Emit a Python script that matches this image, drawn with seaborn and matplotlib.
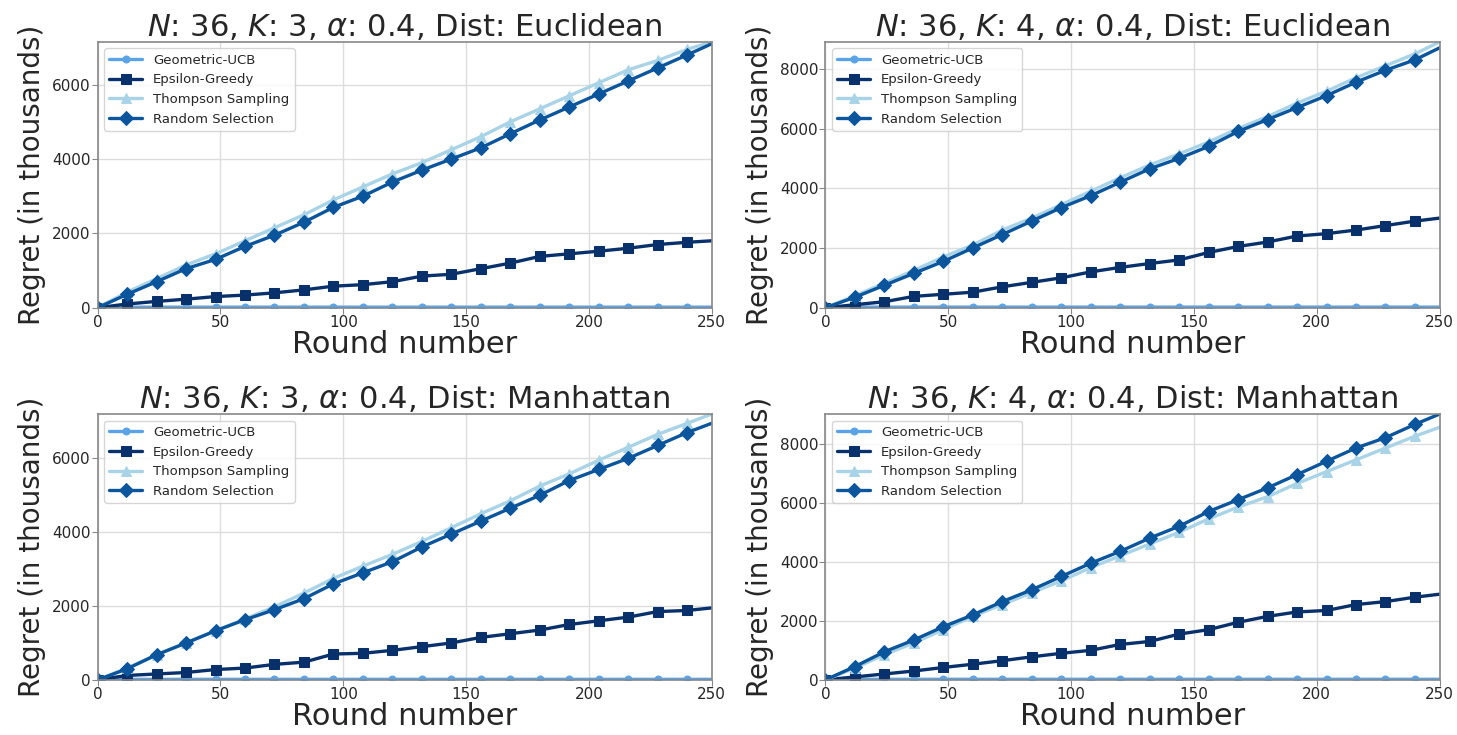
import numpy as np
import pandas as pd
import matplotlib
matplotlib.use("Agg")
import matplotlib.pyplot as plt
from matplotlib.ticker import MultipleLocator
import seaborn as sns

# rounds where markers sit (every 12 rounds) plus the final round
rounds = list(range(0, 241, 12)) + [250]

algos = ["Geometric-UCB", "Epsilon-Greedy", "Thompson Sampling", "Random Selection"]
colors = ["#5aa3e6", "#08306b", "#a9d3e6", "#0a559c"]
markers = ["o", "s", "^", "D"]

# K=3, Euclidean
geo_k3_euc = [0, 15, 15, 15, 15, 15, 15, 15, 15, 15, 15, 15, 15, 15, 15, 15, 15, 15, 15, 15, 15, 15]
eps_k3_euc = [0, 100, 170, 230, 300, 340, 400, 480, 580, 620, 700, 850, 900, 1050, 1200, 1380, 1450, 1520, 1600, 1700, 1760, 1800]
ts_k3_euc = [0, 420, 780, 1150, 1450, 1800, 2150, 2500, 2900, 3250, 3600, 3900, 4250, 4600, 5000, 5350, 5700, 6050, 6400, 6650, 6950, 7150]
rnd_k3_euc = [0, 360, 700, 1050, 1300, 1650, 1950, 2300, 2700, 3000, 3380, 3700, 4000, 4300, 4680, 5050, 5400, 5750, 6100, 6450, 6800, 7100]

# K=4, Euclidean
geo_k4_euc = [0, 20, 20, 20, 20, 20, 20, 20, 20, 20, 20, 20, 20, 20, 20, 20, 20, 20, 20, 20, 20, 20]
eps_k4_euc = [0, 100, 200, 380, 450, 520, 700, 850, 1000, 1200, 1350, 1480, 1600, 1850, 2050, 2200, 2400, 2480, 2600, 2750, 2900, 3000]
ts_k4_euc = [0, 400, 820, 1250, 1700, 2100, 2600, 3000, 3450, 3900, 4350, 4780, 5150, 5550, 6000, 6400, 6850, 7250, 7700, 8100, 8500, 8900]
rnd_k4_euc = [0, 350, 750, 1150, 1550, 2000, 2450, 2900, 3350, 3750, 4200, 4650, 5000, 5400, 5900, 6300, 6700, 7100, 7550, 7950, 8300, 8700]

# K=3, Manhattan
geo_k3_man = [0, 15, 15, 15, 15, 15, 15, 15, 15, 15, 15, 15, 15, 15, 15, 15, 15, 15, 15, 15, 15, 15]
eps_k3_man = [0, 120, 160, 200, 280, 320, 420, 480, 700, 720, 800, 900, 1000, 1150, 1250, 1350, 1500, 1600, 1700, 1850, 1880, 1950]
ts_k3_man = [0, 320, 680, 1000, 1330, 1650, 1980, 2350, 2750, 3080, 3400, 3750, 4120, 4500, 4850, 5250, 5580, 5950, 6300, 6650, 6950, 7200]
rnd_k3_man = [0, 300, 680, 1000, 1330, 1630, 1900, 2200, 2600, 2900, 3200, 3600, 3950, 4300, 4650, 5000, 5400, 5700, 6000, 6350, 6700, 6950]

# K=4, Manhattan
geo_k4_man = [0, 20, 20, 20, 20, 20, 20, 20, 20, 20, 20, 20, 20, 20, 20, 20, 20, 20, 20, 20, 20, 20]
eps_k4_man = [0, 100, 200, 300, 420, 530, 650, 780, 900, 1000, 1200, 1300, 1550, 1700, 1950, 2150, 2300, 2350, 2550, 2650, 2800, 2900]
ts_k4_man = [0, 400, 850, 1250, 1700, 2150, 2550, 2950, 3350, 3800, 4200, 4600, 5000, 5450, 5850, 6200, 6650, 7050, 7450, 7850, 8250, 8550]
rnd_k4_man = [0, 450, 950, 1350, 1800, 2200, 2650, 3050, 3500, 3950, 4350, 4800, 5200, 5700, 6100, 6500, 6950, 7400, 7850, 8200, 8650, 9000]

panels = [
    ("$N$: 36, $K$: 3, $\\alpha$: 0.4, Dist: Euclidean", [geo_k3_euc, eps_k3_euc, ts_k3_euc, rnd_k3_euc]),
    ("$N$: 36, $K$: 4, $\\alpha$: 0.4, Dist: Euclidean", [geo_k4_euc, eps_k4_euc, ts_k4_euc, rnd_k4_euc]),
    ("$N$: 36, $K$: 3, $\\alpha$: 0.4, Dist: Manhattan", [geo_k3_man, eps_k3_man, ts_k3_man, rnd_k3_man]),
    ("$N$: 36, $K$: 4, $\\alpha$: 0.4, Dist: Manhattan", [geo_k4_man, eps_k4_man, ts_k4_man, rnd_k4_man]),
]

sns.set_style("whitegrid")
plt.rcParams["mathtext.fontset"] = "dejavusans"

fig, axes = plt.subplots(2, 2, figsize=(14.57, 7.35), dpi=100)
fig.subplots_adjust(left=0.067, right=0.988, top=0.943, bottom=0.075, wspace=0.185, hspace=0.4)

for ax, (title, series) in zip(axes.flat, panels):
    for name, vals, c, m in zip(algos, series, colors, markers):
        df = pd.DataFrame({"round": rounds, "regret": vals})
        sns.lineplot(data=df, x="round", y="regret", ax=ax, color=c, marker=m,
                     markersize=7 if m != "o" else 5, linewidth=2.4, markeredgecolor=c,
                     markevery=list(range(len(rounds) - 1)), label=name)
    ax.set_xlim(0, 250)
    ax.set_ylim(0, max(max(s) for s in series))
    ax.yaxis.set_major_locator(MultipleLocator(2000))
    ax.xaxis.set_major_locator(MultipleLocator(50))
    ax.set_title(title, fontsize=22, pad=4)
    ax.set_xlabel("Round number", fontsize=22, labelpad=0)
    ax.set_ylabel("Regret (in thousands)", fontsize=20)
    ax.tick_params(labelsize=11, pad=1, length=4, color="#888888", left=True, bottom=True)
    for sp in ax.spines.values():
        sp.set_color("#888888")
        sp.set_linewidth(1.2)
    ax.grid(color="#dddddd", linewidth=1)
    ax.legend(loc="upper left", fontsize=9.5, frameon=True, handlelength=2.5)

plt.savefig("out.png", dpi=100)
